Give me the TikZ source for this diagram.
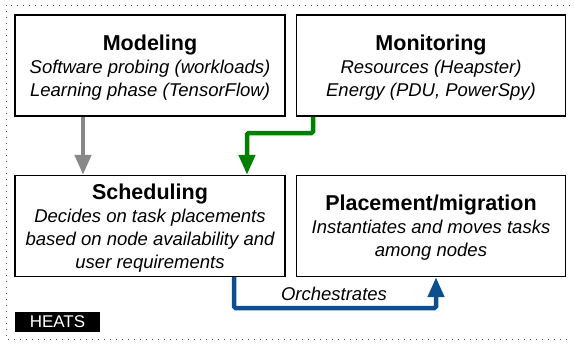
\documentclass[tikz,border=0pt]{standalone}
\usepackage{fontspec}
\setmainfont{Liberation Sans}
\usetikzlibrary{arrows.meta}
\definecolor{arrgray}{HTML}{888888}
\definecolor{arrgreen}{HTML}{008000}
\definecolor{arrblue}{HTML}{0B4F8E}
\begin{document}
\begin{tikzpicture}[x=1pt,y=-1pt,
  box/.style={draw=black,line width=1.4pt,fill=white,minimum width=270pt,minimum height=101pt,
    inner sep=0pt,align=center,text depth=0pt,font=\fontsize{18.5}{23}\selectfont\itshape},
  conn/.style={line width=4.5pt,rounded corners=1.5pt,-{Triangle[length=20pt,width=16pt]}},
  frame/.style={draw=black!70,line width=0.9pt,dash pattern=on 1.3pt off 4.7pt}
]
\useasboundingbox (0,0) rectangle (574,343);
\draw[frame] (570,5) -- (6,5) -- (6,339) -- (570,339);
\newcommand{\ttlf}[1]{{\fontsize{21.5}{23}\selectfont\bfseries\upshape #1}}
\node[box] (model) at (150,65.5) {\ttlf{Modeling}\\Software probing (workloads)\\Learning phase (TensorFlow)};
\node[box,minimum width=269pt] (monit) at (431,65.5) {\ttlf{Monitoring}\\Resources (Heapster)\\Energy (PDU, PowerSpy)};
\node[box] (sched) at (150,226) {\ttlf{Scheduling}\\Decides on task placements\\based on node availability and\\user requirements};
\node[box,minimum width=269pt] (place) at (431,226) {\ttlf{Placement/migration}\\Instantiates and moves tasks\\among nodes};
\node[fill=black,text=white,font=\fontsize{17}{17}\selectfont,minimum width=85pt,minimum height=20pt,inner sep=0pt] (heats) at (57.5,322) {HEATS};
\coordinate (ga) at (83,0);
\draw[conn,draw=arrgray] (model.south -| ga) -- (sched.north -| ga);
\coordinate (g1) at (313,133);
\coordinate (g2) at (247,133);
\draw[conn,draw=arrgreen] (monit.south -| g1) -- (g1) -- (g2) -- (sched.north -| g2);
\coordinate (b1) at (234,308);
\coordinate (b2) at (436,308);
\draw[conn,draw=arrblue] (sched.south -| b1) -- (b1) -- (b2) -- (place.south -| b2);
\node[font=\fontsize{18.5}{18}\selectfont\itshape,anchor=base,inner sep=0pt] (orch) at (334,300) {Orchestrates};
\end{tikzpicture}
\end{document}
